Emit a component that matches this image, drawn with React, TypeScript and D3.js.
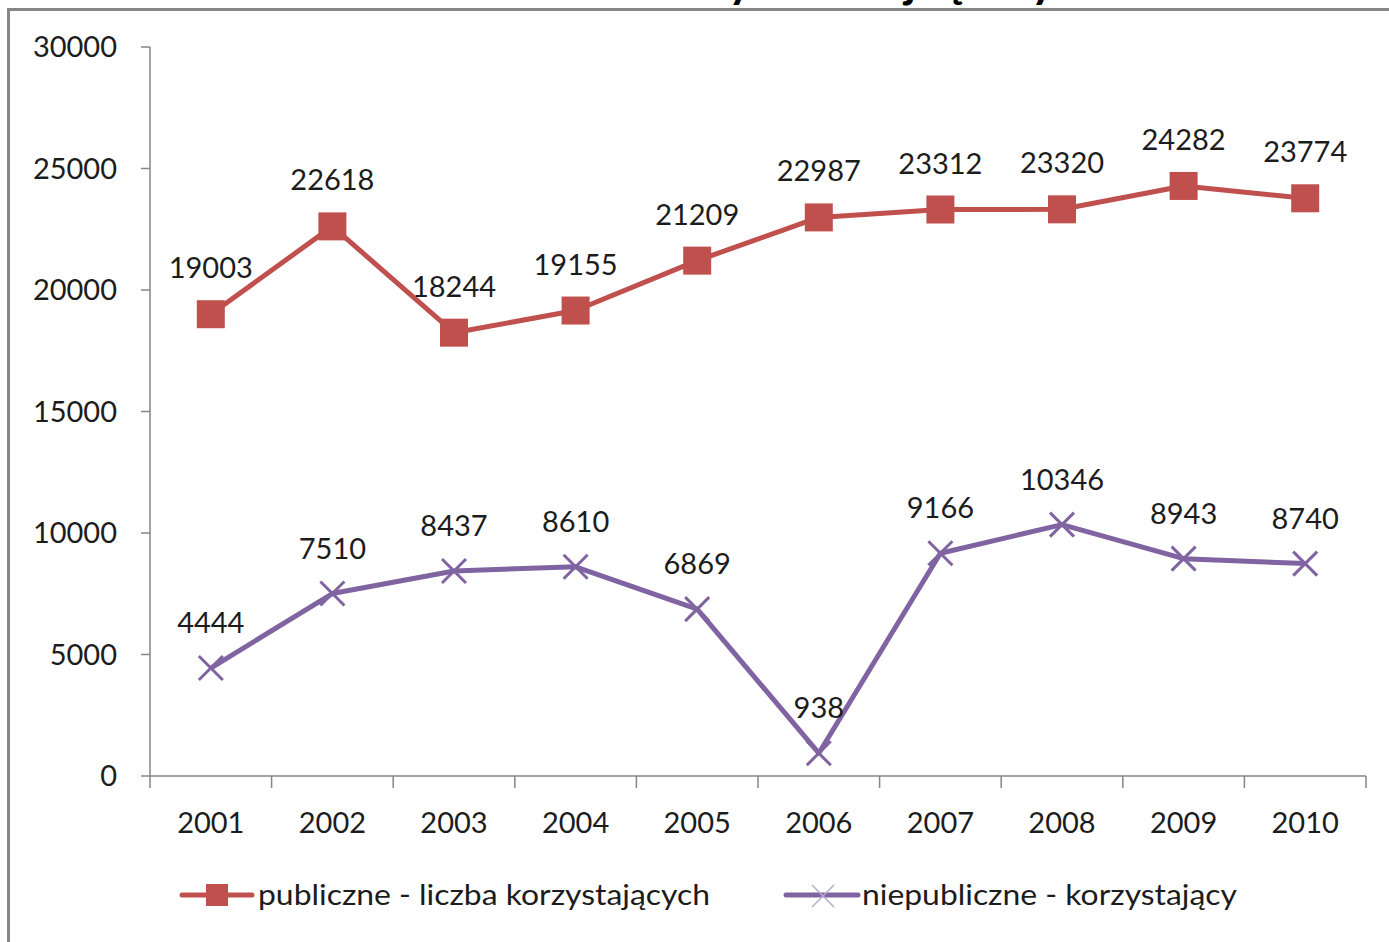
import React from 'react'
import * as d3 from 'd3'

const width = 1389
const height = 942
const plot = { left: 150, right: 1366, top: 47, bottom: 776 }

const years = ['2001', '2002', '2003', '2004', '2005', '2006', '2007', '2008', '2009', '2010']
const publiczne = [19003, 22618, 18244, 19155, 21209, 22987, 23312, 23320, 24282, 23774]
const niepubliczne = [4444, 7510, 8437, 8610, 6869, 938, 9166, 10346, 8943, 8740]
const yTicks = [0, 5000, 10000, 15000, 20000, 25000, 30000]
const seriesNames = ['publiczne - liczba korzystających', 'niepubliczne - korzystający']

const red = '#C0504D'
const purple = '#8064A2'
const axisColor = '#868686'
const textColor = '#1c1c1c'
const font = 'Lato, "Open Sans", sans-serif'

function App() {
  const x = d3.scaleBand().domain(years).range([plot.left, plot.right])
  const y = d3.scaleLinear().domain([0, 30000]).range([plot.bottom, plot.top])
  const cx = (yr: string) => (x(yr) ?? 0) + x.bandwidth() / 2

  const line = d3
    .line<number>()
    .x((_, i) => cx(years[i]))
    .y((d) => y(d))

  const bandEdges = years.map((yr) => x(yr) ?? 0).concat([plot.right])

  return (
    <svg
      width={width}
      height={height}
      style={{ position: 'absolute', left: 0, top: 0, background: 'white' }}
      fontFamily={font}
    >
      {/* title, only its descenders show above the frame */}
      <text x={548} y={-3} fontSize={46} fontWeight="bold" letterSpacing={23} fill="#000">
        korzystających
      </text>
      <rect x={8.5} y={9.5} width={1420} height={1000} fill="none" stroke={axisColor} strokeWidth={3} />

      {/* y axis */}
      <line x1={plot.left} x2={plot.left} y1={plot.top} y2={plot.bottom} stroke={axisColor} strokeWidth={1.5} />
      {yTicks.map((t) => (
        <g key={t}>
          <line x1={plot.left - 9} x2={plot.left} y1={y(t)} y2={y(t)} stroke={axisColor} strokeWidth={1.5} />
          <text x={117} y={y(t)} dy="0.36em" textAnchor="end" fontSize={29} fill={textColor}>
            {t}
          </text>
        </g>
      ))}

      {/* x axis */}
      <line x1={plot.left} x2={plot.right} y1={plot.bottom} y2={plot.bottom} stroke={axisColor} strokeWidth={1.5} />
      {bandEdges.map((e, i) => (
        <line key={i} x1={e} x2={e} y1={plot.bottom} y2={plot.bottom + 12} stroke={axisColor} strokeWidth={1.5} />
      ))}
      {years.map((yr) => (
        <text key={yr} x={cx(yr)} y={833} textAnchor="middle" fontSize={29} fill={textColor}>
          {yr}
        </text>
      ))}

      {/* publiczne */}
      <path d={line(publiczne) ?? ''} fill="none" stroke={red} strokeWidth={5} strokeLinejoin="round" />
      {publiczne.map((v, i) => (
        <rect key={i} x={cx(years[i]) - 14} y={y(v) - 14} width={28} height={28} fill={red} />
      ))}
      {publiczne.map((v, i) => (
        <text key={i} x={cx(years[i])} y={y(v) - 36} textAnchor="middle" fontSize={29} fill={textColor}>
          {v}
        </text>
      ))}

      {/* niepubliczne */}
      <path d={line(niepubliczne) ?? ''} fill="none" stroke={purple} strokeWidth={5} strokeLinejoin="round" />
      {niepubliczne.map((v, i) => {
        const px = cx(years[i])
        const py = y(v)
        return (
          <g key={i} stroke={purple} strokeWidth={3}>
            <line x1={px - 12} y1={py - 12} x2={px + 12} y2={py + 12} />
            <line x1={px - 12} y1={py + 12} x2={px + 12} y2={py - 12} />
          </g>
        )
      })}
      {niepubliczne.map((v, i) => (
        <text key={i} x={cx(years[i])} y={y(v) - 35} textAnchor="middle" fontSize={29} fill={textColor}>
          {v}
        </text>
      ))}

      {/* legend */}
      <line x1={182} x2={252} y1={895} y2={895} stroke={red} strokeWidth={5} strokeLinecap="round" />
      <rect x={206} y={884} width={22} height={22} fill={red} />
      <text x={258} y={905} fontSize={29} fill={textColor} textLength={452} lengthAdjust="spacingAndGlyphs">
        {seriesNames[0]}
      </text>
      <line x1={786} x2={858} y1={895} y2={895} stroke={purple} strokeWidth={5} strokeLinecap="round" />
      <g stroke="#b9a7d0" strokeWidth={1.5}>
        <line x1={812} y1={885} x2={834} y2={907} />
        <line x1={812} y1={907} x2={834} y2={885} />
      </g>
      <text x={862} y={905} fontSize={29} fill={textColor} textLength={375} lengthAdjust="spacingAndGlyphs">
        {seriesNames[1]}
      </text>
    </svg>
  )
}

export default App
